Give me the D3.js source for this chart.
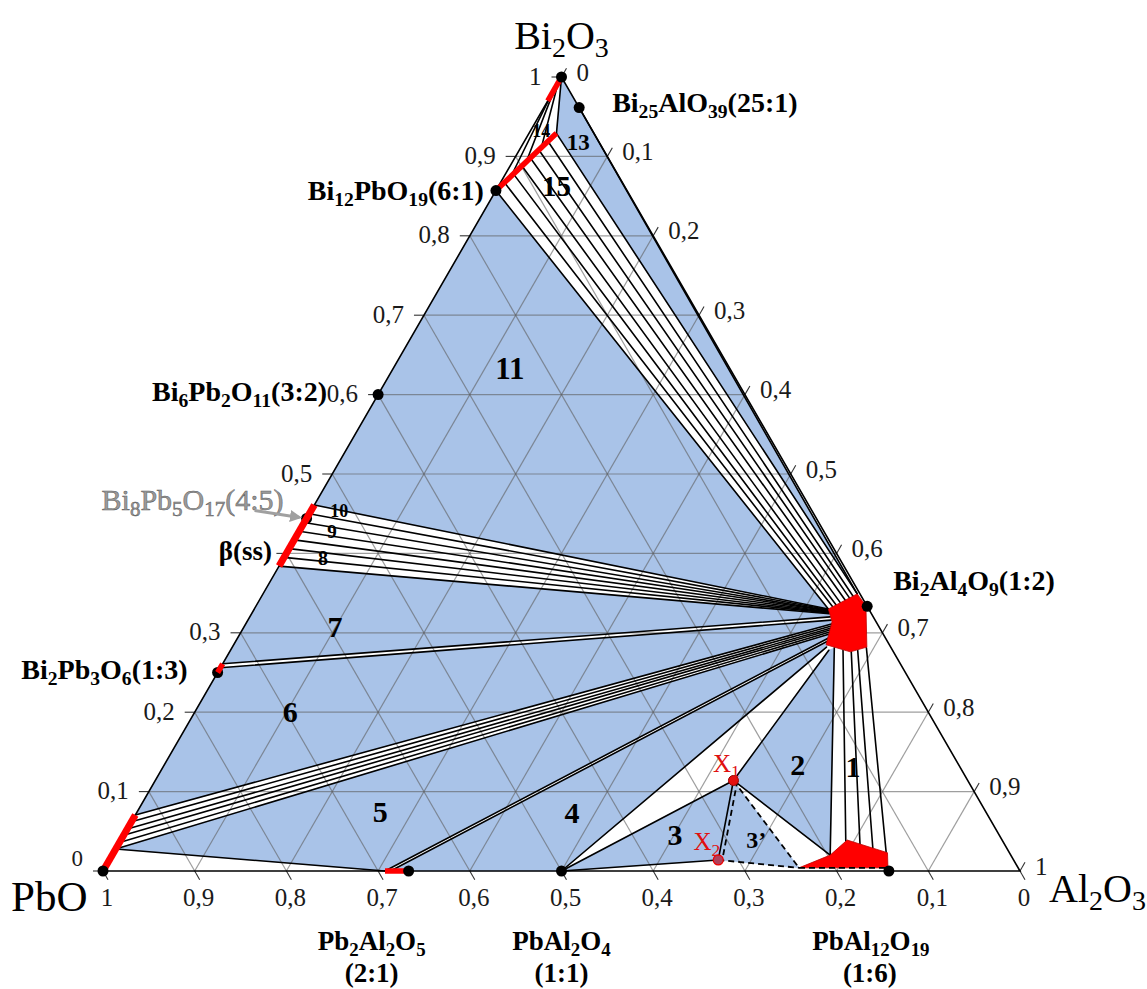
<!DOCTYPE html>
<html><head><meta charset="utf-8">
<script src="https://cdn.jsdelivr.net/npm/d3@7/dist/d3.min.js"></script>
<style>html,body{margin:0;padding:0;background:#fff;}svg{display:block;}</style>
</head><body>
<svg id="chart" width="1147" height="989"></svg>
<script>
// All compositions are mole fractions [Bi2O3, Al2O3]; PbO = 1 - Bi2O3 - Al2O3
const tickValues = [0,0.1,0.2,0.3,0.4,0.5,0.6,0.7,0.8,0.9,1];
const leftTickLabels   = ["0","0,1","0,2","0,3","","0,5","0,6","0,7","0,8","0,9","1"]; // Bi2O3
const bottomTickLabels = ["0","0,1","0,2","0,3","0,4","0,5","0,6","0,7","0,8","0,9","1"]; // PbO
const rightTickLabels  = ["0","0,1","0,2","0,3","0,4","0,5","0,6","0,7","0,8","0,9","1"]; // Al2O3

const compounds = [
  {name:"Bi2O3",     comp:[1,0]},
  {name:"Bi25AlO39", comp:[0.9615,0.0385]},
  {name:"Bi12PbO19", comp:[0.857,0]},
  {name:"Bi6Pb2O11", comp:[0.6,0]},
  {name:"Bi8Pb5O17", comp:[0.444,0], under:true},
  {name:"Bi2Pb3O6",  comp:[0.25,0], under:true},
  {name:"Bi2Al4O9",  comp:[0.3333,0.6667]},
  {name:"PbO",       comp:[0,0]},
  {name:"Pb2Al2O5",  comp:[0,0.3333]},
  {name:"PbAl2O4",   comp:[0,0.5]},
  {name:"PbAl12O19", comp:[0,0.857]}
];

const X1 = [0.114,0.6305];
const X2 = [0.0139,0.664];

// solid-solution ranges (red)
const solidSolutions = [
  [[1,0],[0.97,0]],
  [[0.857,0],[0.929,0.030]],
  [[0.461,0],[0.384,0]],
  [[0.25,0],[0.261,0]],
  [[0,0],[0.0705,0]],
  [[0,0.3075],[0,0.3333]]
];
const bi2al4o9Field  = [[0.330,0.626],[0.349,0.648],[0.334,0.665],[0.282,0.692],[0.276,0.677],[0.285,0.646],[0.314,0.638]];
const pbal12o19Field = [[0.004,0.757],[0.020,0.783],[0.039,0.792],[0.023,0.844],[0.004,0.854]];

// three-phase fields (blue)
const threePhaseFields = [
  [[1,0],[0.9615,0.0385],[0.349,0.648],[0.929,0.030]],
  [[0.857,0],[0.330,0.626],[0.461,0]],
  [[0.384,0],[0.324,0.630],[0.320,0.633],[0.261,0]],
  [[0.256,0],[0.316,0.636],[0.311,0.639],[0.0705,0]],
  [[0.0277,0],[0.2985,0.643],[0.2935,0.6445],[0,0.3075]],
  [[0,0.3135],[0.290,0.646],[0.282,0.648],[0,0.5]],
  [[0,0.5],X1,X2],
  [X1,X2,[0.004,0.757]],
  [X1,[0.278,0.6525],[0.281,0.657],[0.020,0.783]]
];

// tie-lines (two-phase fields)
const tie14 = [
  [[0.9775,0],[0.875,0.0075]],[[0.985,0],[0.893,0.015]],[[0.9925,0],[0.911,0.0225]],[[1,0],[0.929,0.030]]
];
const tie15 = [
  [[0.857,0],[0.330,0.626]],[[0.867,0.0043],[0.333,0.629]],[[0.878,0.0086],[0.335,0.632]],
  [[0.888,0.0129],[0.338,0.635]],[[0.898,0.0171],[0.341,0.639]],[[0.908,0.0214],[0.344,0.642]],
  [[0.919,0.0257],[0.346,0.645]],[[0.929,0.030],[0.349,0.648]]
];
const tieBi25 = [[[0.9615,0.0385],[0.349,0.648]]];
const tieBeta = [
  [[0.461,0],[0.330,0.626]],[[0.450,0],[0.329,0.6266]],[[0.439,0],[0.328,0.6271]],
  [[0.428,0],[0.3274,0.6277]],[[0.417,0],[0.3266,0.6283]],[[0.406,0],[0.3257,0.6289]],
  [[0.395,0],[0.3249,0.6294]],[[0.384,0],[0.324,0.630]]
];
const tieBi2Pb3O6 = [[[0.261,0],[0.320,0.633]],[[0.256,0],[0.316,0.636]]];
const tiePbO = [
  [[0.0705,0],[0.311,0.639]],[[0.062,0],[0.3085,0.640]],[[0.053,0],[0.306,0.641]],
  [[0.045,0],[0.3035,0.641]],[[0.036,0],[0.301,0.642]],[[0.0277,0],[0.2985,0.643]]
];
const tieOther = [
  [[0.0277,0],[0,0.3075]],
  [[0,0.3075],[0.2935,0.6445]],[[0,0.3135],[0.290,0.646]],
  [[0,0.5],[0.282,0.648]],[[0,0.5],X1],[[0,0.5],X2],
  [X1,[0.278,0.6525]],[X1,X2],[X1,[0.020,0.783]]
];
const tie1 = [
  [[0.281,0.657],[0.020,0.783]],[[0.278,0.668],[0.038,0.791]],[[0.276,0.678],[0.034,0.8085]],
  [[0.278,0.684],[0.029,0.825]],[[0.281,0.692],[0.024,0.842]]
];
const dashedLines = [
  [X1,[0.004,0.757]],[X2,[0.004,0.757]]
];

const regionLabels = [
  {t:"14",c:[0.932,0.012],s:18},{t:"13",c:[0.9185,0.059],s:23},{t:"15",c:[0.863,0.063],s:29},
  {t:"11",c:[0.6335,0.127],s:31},{t:"10",c:[0.4535,0.031],s:18},{t:"9",c:[0.4275,0.036],s:19},
  {t:"8",c:[0.394,0.043],s:20},{t:"7",c:[0.308,0.099],s:30},{t:"6",c:[0.2006,0.104],s:30},
  {t:"5",c:[0.0747,0.265],s:30},{t:"4",c:[0.073,0.475],s:30},{t:"3",c:[0.0453,0.601],s:30},
  {t:"3’",c:[0.039,0.693],s:24},{t:"2",c:[0.1335,0.691],s:30},{t:"1",c:[0.131,0.7525],s:30}
];
const pointLabels = [{t:"X_{1}",c:[0.1356,0.612]},{t:"X_{2}",c:[0.037,0.640]}];

const compoundLabels = [
  {text:"Bi_{25}AlO_{39}(25:1)", at:"Bi25AlO39", dx:33, dy:-5, anchor:"start"},
  {text:"Bi_{12}PbO_{19}(6:1)",  at:"Bi12PbO19", dx:-12, dy:0, anchor:"end"},
  {text:"Bi_{6}Pb_{2}O_{11}(3:2)", at:"Bi6Pb2O11", dx:-51, dy:-3, anchor:"end"},
  {text:"Bi_{2}Pb_{3}O_{6}(1:3)", at:"Bi2Pb3O6", dx:-30, dy:-3, anchor:"end"},
  {text:"Bi_{2}Al_{4}O_{9}(1:2)", at:"Bi2Al4O9", dx:26, dy:-26, anchor:"start"},
  {text:"Pb_{2}Al_{2}O_{5}", at:"Pb2Al2O5", dx:-37, dy:70, anchor:"middle"},
  {text:"(2:1)", at:"Pb2Al2O5", dx:-37, dy:102, anchor:"middle"},
  {text:"PbAl_{2}O_{4}", at:"PbAl2O4", dx:0, dy:70, anchor:"middle"},
  {text:"(1:1)", at:"PbAl2O4", dx:0, dy:102, anchor:"middle"},
  {text:"PbAl_{12}O_{19}", at:"PbAl12O19", dx:-18, dy:70, anchor:"middle"},
  {text:"(1:6)", at:"PbAl12O19", dx:-19, dy:102, anchor:"middle"}
];

// ---------------- drawing ----------------
const svg = d3.select("#chart");
const FONT = "'Liberation Serif','Times New Roman',Times,serif";
const BLUE = "#a9c3e8", RED = "#ff0000";
const xS = d3.scaleLinear().domain([0,1]).range([103,1020]);
const yS = d3.scaleLinear().domain([0,1]).range([871,77]);
const P = c => [xS(c[1] + c[0]/2), yS(c[0])];
const path = d3.line().x(d => P(d)[0]).y(d => P(d)[1]);
const comp = n => compounds.find(d => d.name === n).comp;

function rich(sel, str, x, yc, o){
  const size = o.size;
  const t = sel.append("text").attr("x", x).attr("y", yc + size*0.34)
    .attr("font-family", FONT).attr("font-size", size)
    .attr("font-weight", o.weight || "normal").attr("fill", o.fill || "#000")
    .attr("text-anchor", o.anchor || "start");
  if (o.stroke) t.attr("stroke", o.stroke).attr("stroke-width", o.sw || 0.5);
  const parts = str.split(/(_\{[^}]*\})/).filter(s => s.length);
  let inSub = false;
  const sh = size*0.22;
  parts.forEach(p => {
    if (p.startsWith("_{")) {
      t.append("tspan").attr("font-size", size*0.7).attr("dy", inSub ? 0 : sh).text(p.slice(2,-1));
      inSub = true;
    } else {
      t.append("tspan").attr("dy", inSub ? -sh : 0).text(p);
      inSub = false;
    }
  });
  return t;
}

// blue three-phase fields
svg.append("g").selectAll("path").data(threePhaseFields).join("path")
  .attr("d", d => path(d) + "Z").attr("fill", BLUE).attr("stroke", BLUE).attr("stroke-width", 0.6);

// grid
const grid = svg.append("g").attr("stroke", "#5e5e5e").attr("stroke-opacity", 0.6).attr("stroke-width", 1.2).attr("fill","none");
tickValues.filter(v => v > 0 && v < 1).forEach(v => {
  grid.append("path").attr("d", path([[v,0],[v,1-v]]));
  grid.append("path").attr("d", path([[0,v],[1-v,v]]));
  grid.append("path").attr("d", path([[0,1-v],[1-v,0]]));
});
// ticks
const ticks = svg.append("g").attr("stroke", "#333").attr("stroke-width", 1.1);
const TL = 10;
tickValues.forEach(v => {
  const pl = P([v,0]);     ticks.append("line").attr("x1",pl[0]).attr("y1",pl[1]).attr("x2",pl[0]-TL).attr("y2",pl[1]);
  const pb = P([0,1-v]);   ticks.append("line").attr("x1",pb[0]).attr("y1",pb[1]).attr("x2",pb[0]+TL*0.5).attr("y2",pb[1]+TL*0.866);
  const pr = P([1-v,v]);   ticks.append("line").attr("x1",pr[0]).attr("y1",pr[1]).attr("x2",pr[0]+TL*0.5).attr("y2",pr[1]-TL*0.866);
});

// tie-lines
const tl = svg.append("g").attr("stroke", "#000").attr("stroke-width", 1.6).attr("fill","none").attr("stroke-linecap","round");
[tie14, tie15, tieBi25, tieBeta, tieBi2Pb3O6, tiePbO, tieOther, tie1].forEach(group => {
  group.forEach(seg => tl.append("path").attr("d", path(seg)));
});
const dl = svg.append("g").attr("stroke", "#000").attr("stroke-width", 1.8).attr("fill","none").attr("stroke-dasharray","6,4");
dashedLines.forEach(seg => dl.append("path").attr("d", path(seg)));
dl.append("path").attr("d", path([X1, X2])).attr("transform", "translate(4,0)");

// triangle outline
svg.append("path").attr("d", path([[0,0],[0,1],[1,0]]) + "Z").attr("fill","none").attr("stroke","#000").attr("stroke-width",1.6);

// dots under the red
const dots = svg.append("g");
compounds.filter(d => d.under).forEach(d => { const p = P(d.comp); dots.append("circle").attr("cx",p[0]).attr("cy",p[1]).attr("r",5.5).attr("fill","#000"); });

// red solid solutions
const red = svg.append("g");
solidSolutions.forEach((s,i) => red.append("path").attr("d", path(s)).attr("stroke", RED)
  .attr("stroke-width", (i===2||i===4) ? 7 : 5.5).attr("fill","none"));
[bi2al4o9Field, pbal12o19Field].forEach(f => red.append("path").attr("d", path(f) + "Z").attr("fill", RED).attr("stroke", "#c00000").attr("stroke-width", 0.8));
svg.append("path").attr("d", path([pbal12o19Field[0], pbal12o19Field[4]])).attr("stroke","#000").attr("stroke-width",1.8).attr("stroke-dasharray","6,4").attr("fill","none");

// dots above
const dots2 = svg.append("g");
compounds.filter(d => !d.under).forEach(d => { const p = P(d.comp); dots2.append("circle").attr("cx",p[0]).attr("cy",p[1]).attr("r",5.5).attr("fill","#000"); });
const p1 = P(X1), p2 = P(X2);
dots2.append("circle").attr("cx",p1[0]).attr("cy",p1[1]).attr("r",5).attr("fill","#e41010").attr("stroke","#900").attr("stroke-width",1);
dots2.append("circle").attr("cx",p2[0]).attr("cy",p2[1]).attr("r",5).attr("fill","#b0405a").attr("stroke","#e00").attr("stroke-width",1.2);

// tick labels
const tlab = svg.append("g");
tickValues.forEach((v,i) => {
  const pl = P([v,0]);
  if (leftTickLabels[i]) rich(tlab, leftTickLabels[i], pl[0]-20, pl[1] - (i===0 ? 13 : 1), {size: i===0 ? 23 : 25, anchor:"end", fill:"#1a1a1a"});
  const pb = P([0,1-v]);
  rich(tlab, bottomTickLabels[i], pb[0]+4, pb[1]+26, {size:25, anchor:"middle", fill:"#1a1a1a"});
  const pr = P([1-v,v]);
  rich(tlab, rightTickLabels[i], pr[0]+15, pr[1]-5, {size:25, anchor:"start", fill:"#1a1a1a"});
});

// axis titles
const vTop = P([1,0]), vPbO = P([0,0]), vAl = P([0,1]);
rich(svg, "Bi_{2}O_{3}", vTop[0], vTop[1]-42, {size:40, anchor:"middle"});
rich(svg, "PbO", vPbO[0]-92, vPbO[1]+25, {size:43, anchor:"start"});
rich(svg, "Al_{2}O_{3}", vAl[0]+29, vAl[1]+17, {size:40, anchor:"start"});

// compound labels
compoundLabels.forEach(l => {
  const p = P(comp(l.at));
  rich(svg, l.text, p[0]+l.dx, p[1]+l.dy, {size: l.dy > 50 ? 27 : 28, weight:"bold", anchor:l.anchor});
});
// Bi8Pb5O17 annotation (grey) with arrow
const pb8 = P(comp("Bi8Pb5O17"));
rich(svg, "Bi_{8}Pb_{5}O_{17}(4:5)", pb8[0]-23, pb8[1]-19, {size:30, anchor:"end", fill:"#9a9a9a", stroke:"#5a5a5a", sw:0.5});
svg.append("defs").append("marker").attr("id","arr").attr("viewBox","0 0 10 10").attr("refX",8).attr("refY",5)
  .attr("markerWidth",4).attr("markerHeight",4).attr("orient","auto")
  .append("path").attr("d","M0,0L10,5L0,10Z").attr("fill","#a0a0a0");
svg.append("line").attr("x1",pb8[0]-52).attr("y1",pb8[1]-8).attr("x2",pb8[0]-7).attr("y2",pb8[1]-1)
  .attr("stroke","#a0a0a0").attr("stroke-width",3).attr("marker-end","url(#arr)");
// beta(ss)
const pbeta = P([0.384,0]);
rich(svg, "β(ss)", pbeta[0]-7, pbeta[1]-15, {size:27, weight:"bold", anchor:"end"});

// region labels
regionLabels.forEach(l => { const p = P(l.c); rich(svg, l.t, p[0], p[1], {size:l.s, weight:"bold", anchor:"middle"}); });
pointLabels.forEach(l => { const p = P(l.c); rich(svg, l.t, p[0], p[1], {size:25, anchor:"middle", fill:"#e01010"}); });
</script>
</body></html>
